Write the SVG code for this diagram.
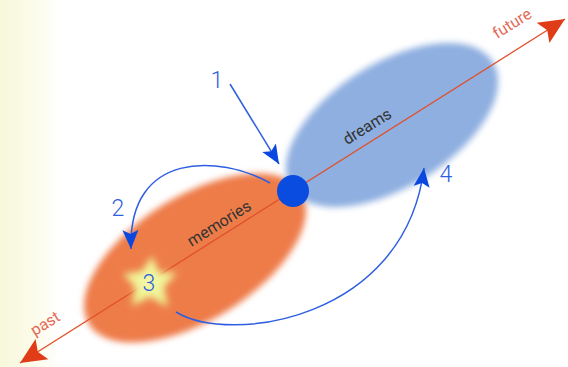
<svg xmlns="http://www.w3.org/2000/svg" width="568" height="367" viewBox="0 0 568 367">
<defs>
<linearGradient id="bg" x1="0" y1="0" x2="1" y2="0">
<stop offset="0" stop-color="#f8f8dc"/>
<stop offset="0.55" stop-color="#fbfbea"/>
<stop offset="1" stop-color="#ffffff"/>
</linearGradient>
<radialGradient id="starfill" cx="0.5" cy="0.5" r="0.5">
<stop offset="0" stop-color="#f4f8a8"/>
<stop offset="1" stop-color="#eef08a"/>
</radialGradient>
<filter id="blur" x="-20%" y="-20%" width="140%" height="140%"><feGaussianBlur stdDeviation="3"/></filter>
<filter id="glow" x="-50%" y="-50%" width="200%" height="200%"><feGaussianBlur stdDeviation="3.5"/></filter>
<marker id="redhead" markerUnits="userSpaceOnUse" viewBox="-27 -13 29 26" refX="0" refY="0" markerWidth="29" markerHeight="26" orient="auto-start-reverse">
<path d="M0,0 L-26,-12 L-21,0 L-26,12 Z" fill="#e03c18"/>
</marker>
<marker id="bluehead" markerUnits="userSpaceOnUse" viewBox="-19 -9 20 18" refX="0" refY="0" markerWidth="20" markerHeight="18" orient="auto">
<path d="M0,0 L-19,-8 L-15,0 L-19,8 Z" fill="#0a47e0"/>
</marker>
<style>
.lbl{font-family:Roboto,"Liberation Sans",sans-serif;font-size:16px;fill:#333;text-anchor:middle}
.dir{font-family:Roboto,"Liberation Sans",sans-serif;font-size:16px;fill:#e46a58;text-anchor:middle}
.num{font-family:Roboto,"Liberation Sans",sans-serif;font-weight:300;font-size:23px;fill:#2f5fe0;text-anchor:middle}
.conn{fill:none;stroke:#2f5fe0;stroke-width:1.5;marker-end:url(#bluehead)}
</style>
</defs>
<rect x="0" y="0" width="568" height="367" fill="#ffffff"/>
<rect x="0" y="0" width="62" height="367" fill="url(#bg)"/>
<g id="memories-blob">
<ellipse cx="195" cy="258" rx="125" ry="62" transform="rotate(-32 195 258)" fill="#ee7c48" filter="url(#blur)"/>
</g>
<g id="dreams-blob">
<ellipse cx="392" cy="125" rx="119" ry="62" transform="rotate(-32 392 125)" fill="#8eafe0" filter="url(#blur)"/>
</g>
<g id="axis">
<line x1="20" y1="363" x2="565" y2="19" stroke="#e0502a" stroke-width="1.3" marker-start="url(#redhead)" marker-end="url(#redhead)"/>
<text class="dir" transform="translate(515 28) rotate(-32)">future</text>
<text class="dir" transform="translate(48 328) rotate(-32)">past</text>
</g>
<g id="star">
<polygon points="152,256 159,272 177,273 164,287 168,307 150,297 132,306 135,287 123,274 142,271" fill="url(#starfill)" filter="url(#glow)"/>
</g>
<g id="labels">
<text class="lbl" transform="translate(222 228) rotate(-32)">memories</text>
<text class="lbl" transform="translate(370 131) rotate(-32)">dreams</text>
</g>
<g id="now">
<circle cx="293" cy="191" r="16" fill="#0a4be0"/>
</g>
<g id="connectors">
<path class="conn" d="M230,84 L279,164"/>
<path class="conn" d="M270,183 C220,155 128,150 131,249"/>
<path class="conn" d="M176,312 C230,345 405,320 424,168" stroke-width="1.3"/>
</g>
<g id="numbers">
<text class="num" x="217" y="88">1</text>
<text class="num" x="118" y="216">2</text>
<text class="num" x="149" y="291">3</text>
<text class="num" x="446" y="182">4</text>
</g>
</svg>
